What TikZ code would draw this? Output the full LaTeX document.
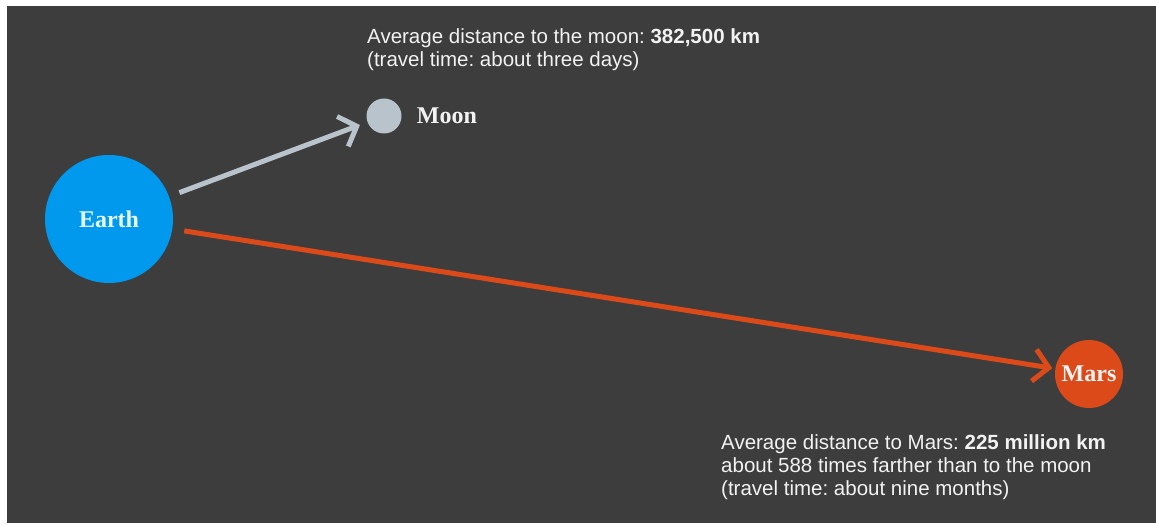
\documentclass[tikz,border=0pt]{standalone}
\usepackage{fontspec}
\setmainfont{Liberation Serif}
\setsansfont{Liberation Sans}
\usetikzlibrary{arrows.meta,positioning}
\frenchspacing

\definecolor{bgdark}{HTML}{3D3D3D}
\definecolor{earthblue}{HTML}{0099EE}
\definecolor{moongray}{HTML}{B9C3CB}
\definecolor{marsred}{HTML}{DD4A1A}
\definecolor{captext}{HTML}{F2F2F2}

\begin{document}
\begin{tikzpicture}[x=1pt,y=-1pt,
  planet/.style={circle,inner sep=0pt,font=\bfseries\fontsize{24}{28}\selectfont},
  caption/.style={align=left,anchor=north west,inner sep=0pt,text=captext,
    font=\sffamily\fontsize{20.5}{23}\selectfont},
  link/.style={line width=5pt,-{Straight Barb[length=15pt,width=32pt]}}]

  \useasboundingbox (0,0) rectangle (1156,526);
  \fill[white] (0,0) rectangle (1156,526);
  \fill[bgdark] (7,6) rectangle (1156,523);

  \node[planet,fill=earthblue,text={white!90!cyan},minimum size=128pt] (earth) at (109,219) {Earth};
  \node[planet,fill=moongray,minimum size=35pt] (moon) at (384,116) {};
  \node[planet,fill=marsred,text=captext,minimum size=68pt] (mars) at (1089,374) {Mars};

  \node[planet,text=captext,anchor=west] (moonlabel) [right=14pt of moon] {Moon};

  \node[caption] (mooncap) at (367,28)
    {Average distance to the moon: \textbf{382,500 km}\\(travel time: about three days)};
  \node[caption] (marscap) at (721,434)
    {Average distance to Mars: \textbf{225 million km}\\about 588 times farther than to the moon\\(travel time: about nine months)};

  \draw[link,moongray,shorten <=11pt,shorten >=8pt] (earth) -- (moon);
  \draw[link,marsred,shorten <=12pt,shorten >=3pt] (earth) -- (mars);

\end{tikzpicture}
\end{document}
